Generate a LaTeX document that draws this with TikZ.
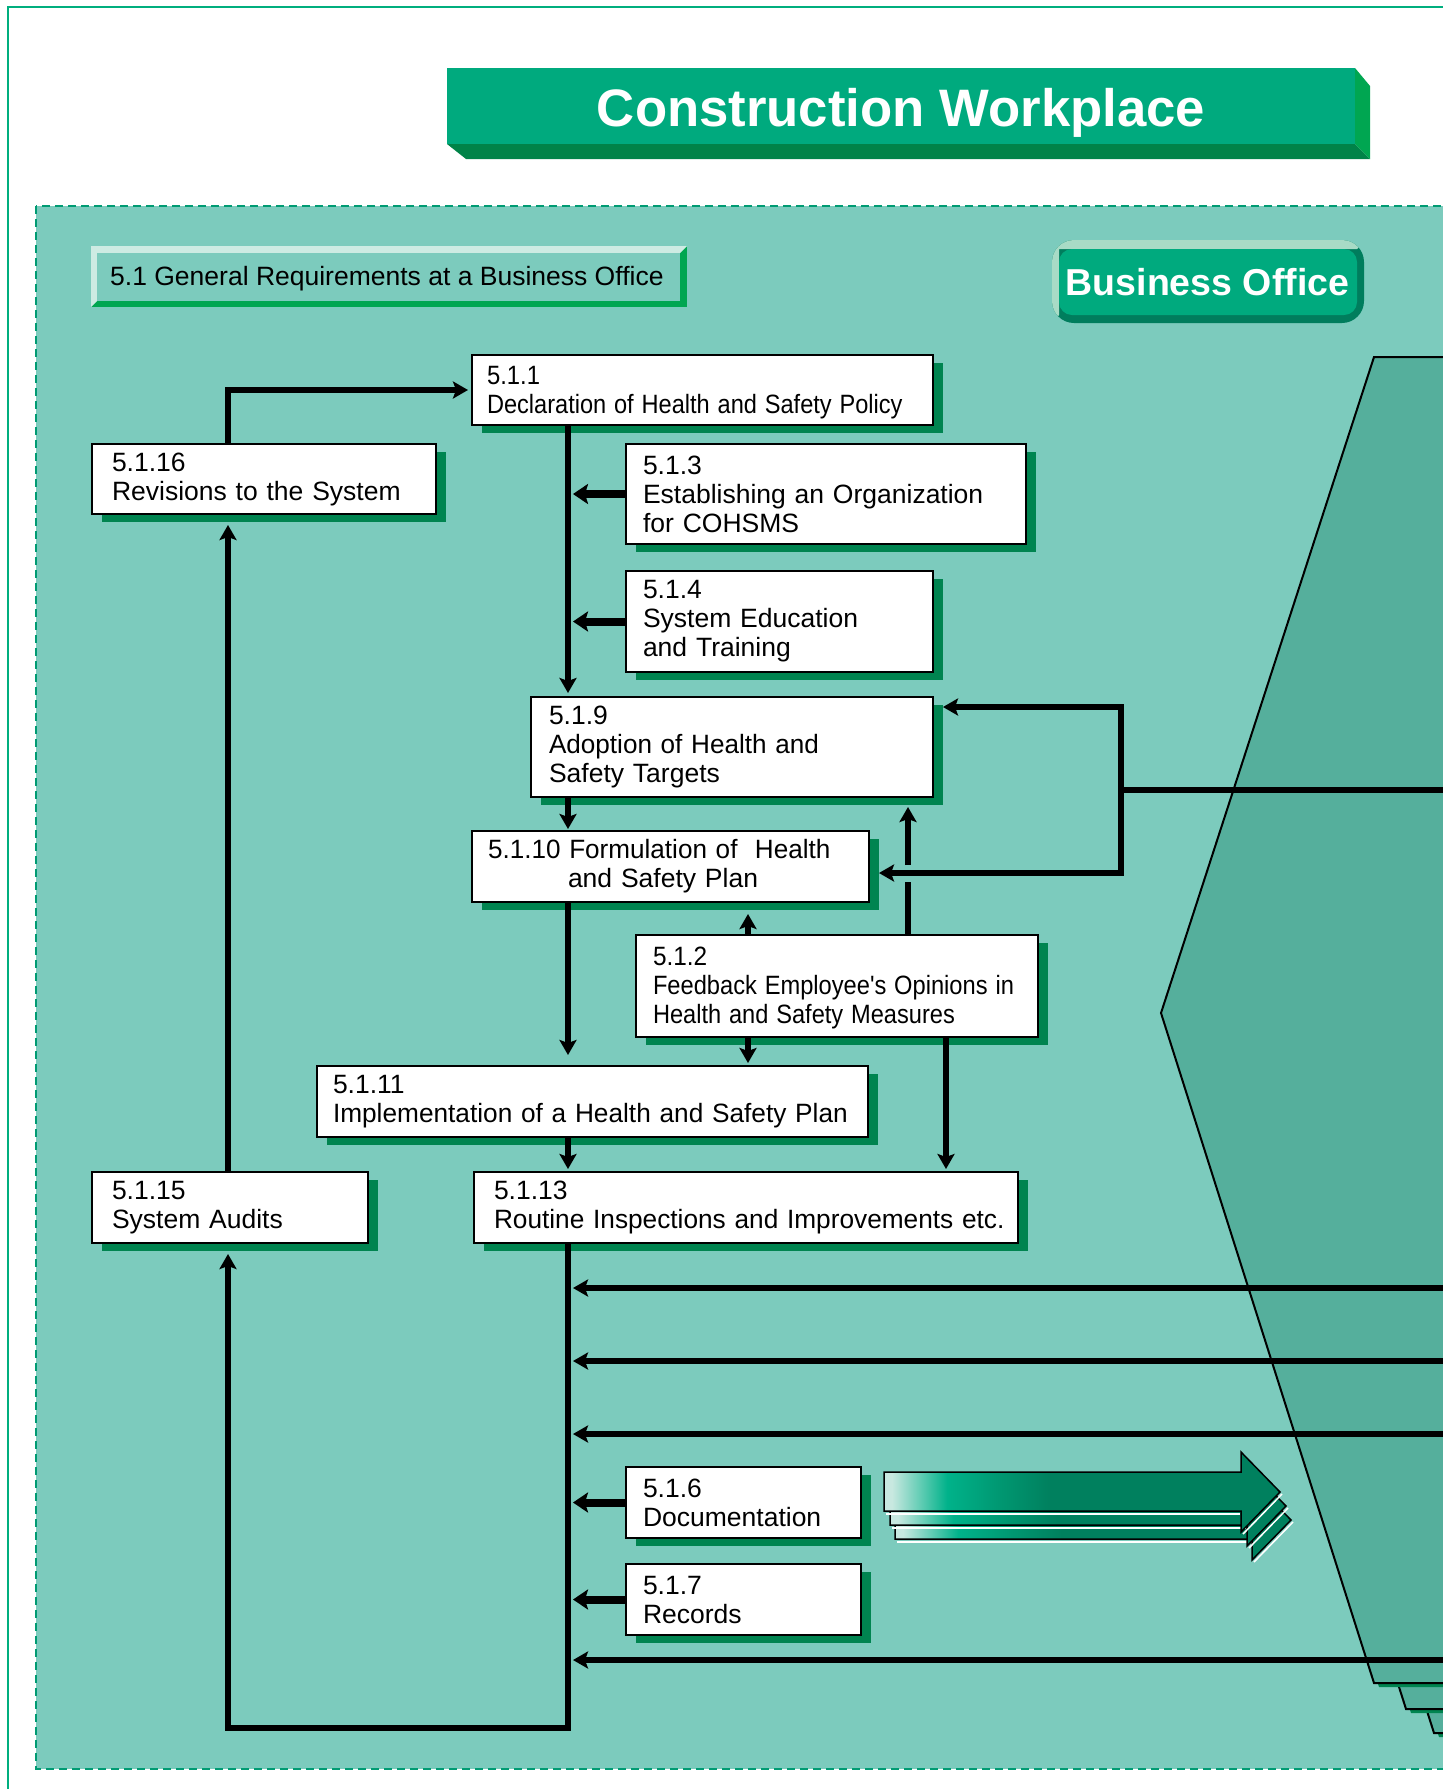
\documentclass[tikz,border=0pt]{standalone}
\usepackage{fontspec}
\setmainfont{Liberation Sans}
\usepackage{graphicx}
\usetikzlibrary{arrows.meta,shadows,calc}

\definecolor{panel}{RGB}{124,203,189}
\definecolor{hexa}{RGB}{85,175,156}
\definecolor{framec}{RGB}{0,174,126}
\definecolor{dashc}{RGB}{0,155,115}
\definecolor{shad}{RGB}{0,132,80}
\definecolor{tface}{RGB}{0,170,126}
\definecolor{tside}{RGB}{0,166,81}
\definecolor{tbot}{RGB}{0,131,72}
\definecolor{bevlight}{RGB}{205,235,227}
\definecolor{bevdark}{RGB}{0,166,81}
\definecolor{bolight}{RGB}{168,219,198}
\definecolor{bodark}{RGB}{0,125,93}
\definecolor{apale}{RGB}{200,232,224}
\definecolor{abright}{RGB}{0,178,138}
\definecolor{amid}{RGB}{0,150,112}
\definecolor{adark}{RGB}{0,128,94}

\pgfdeclarehorizontalshading{arrsh}{100bp}{color(0bp)=(apale); color(26bp)=(apale); color(33bp)=(abright); color(40bp)=(amid); color(46bp)=(adark); color(100bp)=(adark)}

\newcommand\bx{\fontsize{26.5pt}{29pt}\selectfont}
\newcommand\sx[2]{\scalebox{#1}[1]{#2}}

\tikzset{
  box/.style={draw=black, line width=2pt, fill=white, anchor=north west, align=left,
    inner xsep=18pt, inner ysep=0pt, font=\bx,
    drop shadow={shadow xshift=10pt, shadow yshift=-8pt, opacity=1, fill=shad}},
  conn/.style={line width=6pt, -{Stealth[length=15pt,width=17pt,inset=3pt]}},
  stub/.style={line width=8pt, -{Stealth[length=15pt,width=20pt,inset=3pt]}},
  plainline/.style={line width=6pt},
  hexfill/.style={fill=hexa, draw=black, line width=2pt},
  arrbody/.style={shade, shading=arrsh, draw=black, line width=1.5pt},
  hilite/.style={draw=white, line width=1.5pt},
}

\begin{document}
\begin{tikzpicture}[x=1pt, y=-1pt, line join=miter]
\useasboundingbox (0,0) rectangle (1443,1789);
\clip (0,0) rectangle (1443,1789);

% outer frame
\draw[framec, line width=2.5pt] (8,1800) -- (8,7) -- (1460,7);

% dashed panel
\draw[dashc, fill=panel, line width=2pt, dash pattern=on 8pt off 5pt] (36,206) rectangle (1470,1769);

% title banner
\fill[tbot] (447,144) -- (466,159) -- (1370,159) -- (1355,144) -- cycle;
\fill[tside] (1355,68) -- (1370,86) -- (1370,159) -- (1355,144) -- cycle;
\fill[tface] (447,68) rectangle (1355,144);
\node[anchor=base, font=\fontsize{52.7pt}{60pt}\selectfont\bfseries, text=white, inner sep=0pt] (title) at (901,126) {Construction Workplace};

% header bevel box
\fill[bevdark] (91,246) rectangle (687,307);
\fill[bevlight] (91,246) -- (687,246) -- (680,253) -- (97,253) -- (97,301) -- (91,307) -- cycle;
\fill[panel] (97,253) rectangle (680,301);
\node[anchor=base west, font=\bx, inner sep=0pt] (hdr) at (110,285) {5.1 General Requirements at a Business Office};

% business office button
\fill[bodark, rounded corners=22pt] (1052,240) rectangle (1364,323);
\begin{scope}
  \clip[rounded corners=22pt] (1052,240) rectangle (1364,323);
  \fill[bolight] (1040,228) -- (1380,228) -- (1357,249) -- (1059,249) -- (1059,315) -- (1040,335) -- cycle;
\end{scope}
\fill[tface, rounded corners=13pt] (1059,249) rectangle (1357,315);
\node[anchor=base, font=\fontsize{37.5pt}{40pt}\selectfont\bfseries, text=white, inner sep=0pt] (bo) at (1207.5,295) {Business Office};

% construction site shape (stacked sheets)
\foreach \dx/\dy in {60/50, 32/26, 0/0} {
  \begin{scope}[shift={(\dx,\dy)}]
    \fill[shad] (1379,362) -- (1490,362) -- (1490,1687) -- (1379,1687) -- (1166,1017) -- cycle;
    \path[hexfill] (1374,357) -- (1490,357) -- (1490,1683) -- (1374,1683) -- (1161,1013) -- cycle;
  \end{scope}
}

% big 3D arrow
\foreach \dx/\dy in {11/28, 6/14, 0/0} {
  \begin{scope}[shift={(\dx,\dy)}]
    \path[arrbody] (884,1472) -- (1241,1472) -- (1241,1452) -- (1280,1492) -- (1241,1532) -- (1241,1511) -- (884,1511) -- cycle;
    \draw[hilite] (886,1514) -- (1240,1514);
    \draw[hilite] (1243,1534) -- (1282,1494);
  \end{scope}
}

% boxes
\node[box, inner xsep=20pt, minimum width=344pt, minimum height=70pt, text width=304pt] (n5116) at (91,443) {5.1.16\\Revisions to the System};
\node[box, inner xsep=15pt, minimum width=461pt, minimum height=70pt, text width=431pt] (n511) at (471,354) {\rule{0pt}{23pt}\sx{0.9}{5.1.1}\\\sx{0.89}{Declaration of Health and Safety Policy}};
\node[box, inner xsep=17pt, minimum width=400pt, minimum height=100pt, text width=366pt] (n513) at (625,443) {5.1.3\\Establishing an Organization\\for COHSMS};
\node[box, inner xsep=17pt, minimum width=307pt, minimum height=101pt, text width=273pt] (n514) at (625,570) {5.1.4\\System Education\\and Training};
\node[box, inner xsep=18pt, minimum width=402pt, minimum height=100pt, text width=366pt] (n519) at (530,696) {5.1.9\\\sx{0.985}{Adoption of Health and}\\Safety Targets};
\node[box, inner xsep=16pt, minimum width=397pt, minimum height=71pt, text width=365pt] (n5110) at (471,830) {\sx{0.985}{5.1.10 Formulation of~ Health}\\\hspace*{80pt}and Safety Plan};
\node[box, inner xsep=17pt, minimum width=402pt, minimum height=102pt, text width=368pt] (n512) at (635,934) {\rule{0pt}{23pt}\sx{0.92}{5.1.2}\\\sx{0.893}{Feedback Employee\textquotesingle s Opinions in}\\\sx{0.891}{Health and Safety Measures}};
\node[box, inner xsep=16pt, minimum width=551pt, minimum height=71pt, text width=519pt] (n5111) at (316,1065) {5.1.11\\\sx{0.99}{Implementation of a Health and Safety Plan}};
\node[box, inner xsep=20pt, minimum width=276pt, minimum height=71pt, text width=236pt] (n5115) at (91,1171) {5.1.15\\System Audits};
\node[box, inner xsep=18pt, minimum width=544pt, minimum height=71pt, text width=508pt] (n5113) at (473,1171) {\hspace*{2pt}5.1.13\\\hspace*{2pt}\sx{0.99}{Routine Inspections and Improvements etc.}};
\node[box, inner xsep=17pt, minimum width=235pt, minimum height=71pt, text width=201pt] (n516) at (625,1466) {5.1.6\\Documentation};
\node[box, inner xsep=17pt, minimum width=235pt, minimum height=71pt, text width=201pt] (n517) at (625,1563) {5.1.7\\Records};

% helper coordinates
\coordinate (cx228) at (228,0);
\coordinate (cx568) at (568,0);
\coordinate (cx748) at (748,0);
\coordinate (cx908) at (908,0);
\coordinate (cx946) at (946,0);
\coordinate (gaplo) at (908,882);
\coordinate (gaphi) at (908,865);
\coordinate (brtop) at (1121,707);
\coordinate (brbot) at (1121,873);
\coordinate (brin) at (1121,790);
\coordinate (feed) at (1460,790);
\coordinate (loopc) at (568,1728);
\coordinate (in1) at (1460,1288);
\coordinate (in2) at (1460,1361);
\coordinate (in3) at (1460,1434);
\coordinate (in4) at (1460,1660);

% connectors
\draw[conn] (n511.south -| cx568) -- ($(n519.north -| cx568)+(0,-3)$);
\draw[stub] (n513.west) -- ($(n513.west -| cx568)+(5,0)$);
\draw[stub] (n514.west) -- ($(n514.west -| cx568)+(5,0)$);
\draw[conn] (n5116.north -| cx228) |- ($(n511.west)+(-3,0)$);
\draw[conn] (n519.south -| cx568) -- ($(n5110.north -| cx568)+(0,-1)$);
\draw[conn] (n5110.south -| cx568) -- ($(n5111.north -| cx568)+(0,-10)$);
\draw[conn] (n512.north -| cx748) -- ($(n5110.south -| cx748)+(0,11)$);
\draw[conn] (n512.south -| cx748) -- ($(n5111.north -| cx748)+(0,-2)$);
\draw[plainline] (n512.north -| cx908) -- (gaplo);
\draw[conn] (gaphi) -- ($(n519.south -| cx908)+(0,9)$);
\draw[plainline] (feed) -- (brin);
\draw[line width=6pt, {Stealth[length=15pt,width=17pt,inset=3pt]}-{Stealth[length=15pt,width=17pt,inset=3pt]}]
  ($(n519.east |- brtop)+(9,0)$) -- (brtop) -- (brbot) -- ($(n5110.east |- brbot)+(9,0)$);
\draw[conn] (n512.south -| cx946) -- ($(n5113.north -| cx946)+(0,-2)$);
\draw[conn] (n5111.south -| cx568) -- ($(n5113.north -| cx568)+(0,-2)$);
\draw[conn] (n5113.south -| cx568) -- (loopc) -| ($(n5115.south -| cx228)+(0,10)$);
\draw[conn] (n5115.north -| cx228) -- ($(n5116.south -| cx228)+(0,10)$);
\draw[stub] (n516.west) -- ($(n516.west -| cx568)+(5,0)$);
\draw[stub] (n517.west) -- ($(n517.west -| cx568)+(5,0)$);
\draw[conn] (in1) -- ($(in1 -| cx568)+(5,0)$);
\draw[conn] (in2) -- ($(in2 -| cx568)+(5,0)$);
\draw[conn] (in3) -- ($(in3 -| cx568)+(5,0)$);
\draw[conn] (in4) -- ($(in4 -| cx568)+(5,0)$);
\end{tikzpicture}
\end{document}
